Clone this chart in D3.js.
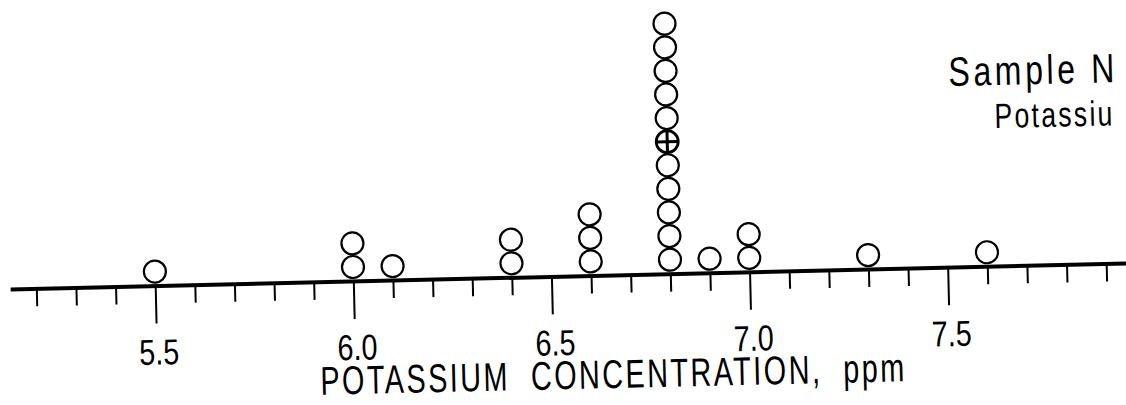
<!DOCTYPE html>
<html>
<head>
<meta charset="utf-8">
<script src="https://cdn.jsdelivr.net/npm/d3@7"></script>
<style>
  body { margin: 0; background: #fff; }
  svg { display: block; }
  text { font-family: 'Liberation Sans', Arial, sans-serif; fill: #000; }
</style>
</head>
<body>
<div id="chart"></div>
<script>
// Data: each concentration and how many labs reported it
var values = [5.5, 6.0, 6.1, 6.4, 6.6, 6.8, 6.9, 7.0, 7.3, 7.6];
var counts = [1, 2, 1, 2, 3, 11, 1, 2, 1, 1];

// the crossed circle sits in the 6.8 stack, 6th from the axis
var markedValue = 6.8,
    markedLevel = 6;

var majorTicks = [5.5, 6.0, 6.5, 7.0, 7.5];
var tickLabels = ["5.5", "6.0", "6.5", "7.0", "7.5"];
var minorTicks = [5.2, 5.3, 5.4, 5.6, 5.7, 5.8, 5.9, 6.1, 6.2, 6.3, 6.4,
                  6.6, 6.7, 6.8, 6.9, 7.1, 7.2, 7.3, 7.4, 7.6, 7.7, 7.8, 7.9];

var axisTitle = "POTASSIUM  CONCENTRATION,  ppm";
// caption is cropped by the right edge of the figure
var sampleTitle = "Sample N";
var sampleSubtitle = "Potassiu";

// narrow lettering: squeeze a normal face horizontally
function addText(parent, x, y, str, size, sx, len) {
  var g = parent.append('g')
                .attr('transform', 'translate(' + x + ',' + y + ') scale(' + sx + ',1)');
  var t = g.append('text')
           .attr('font-size', size)
           .style('white-space', 'pre')
           .text(str);
  if (len) {
    t.attr('textLength', len / sx).attr('lengthAdjust', 'spacing');
  }
  return t;
}

function draw() {
  "use strict";
  var width = 1126,
      height = 405,
      axisY = 276;

  var svg = d3.select('#chart')
              .append('svg')
              .attr('width', width)
              .attr('height', height);

  // the scanned figure is tilted a little, so draw everything in a rotated frame
  var plot = svg.append('g')
                .attr('transform', 'rotate(-1.33, 568, ' + axisY + ')');

  var xScale = d3.scaleLinear()
                 .domain([5.134, 7.985])
                 .range([10, 1140]);

  // stack level -> height above the axis
  var yScale = d3.scaleLinear()
                 .domain([1, 11])
                 .range([axisY - 14, axisY - 14 - 10 * 23.6]);

  // minor ticks
  var minorAxis = d3.axisBottom(xScale)
                    .tickValues(minorTicks)
                    .tickSizeInner(18)
                    .tickSizeOuter(0)
                    .tickFormat('');

  var gMinor = plot.append('g')
                   .attr('transform', 'translate(0,' + axisY + ')')
                   .call(minorAxis);
  gMinor.select('.domain').remove();
  gMinor.selectAll('line').attr('stroke', '#000').attr('stroke-width', 2);

  // major ticks, its domain path is the thick axis line
  var majorAxis = d3.axisBottom(xScale)
                    .tickValues(majorTicks)
                    .tickSizeInner(38)
                    .tickSizeOuter(0)
                    .tickFormat('');

  var gMajor = plot.append('g')
                   .attr('transform', 'translate(0,' + axisY + ')')
                   .call(majorAxis);
  gMajor.select('.domain').attr('stroke', '#000').attr('stroke-width', 4);
  gMajor.selectAll('line').attr('stroke', '#000').attr('stroke-width', 2);

  // tick labels in the narrow lettering
  gMajor.selectAll('.tick').each(function(d, i) {
    addText(d3.select(this), 2, 79, tickLabels[i], 36, 0.8)
      .attr('text-anchor', 'middle');
  });

  // build one point per circle
  var points = [];
  values.forEach(function(v, i) {
    for (var k = 1; k <= counts[i]; k++) {
      points.push({value: v, level: k, marked: v === markedValue && k === markedLevel});
    }
  });

  var dots = plot.append('g')
                 .attr('id', 'dots')
                 .selectAll('g')
                 .data(points)
                 .enter()
                 .append('g')
                 .attr('transform', function(d) {
                   return 'translate(' + xScale(d.value) + ',' + yScale(d.level) + ')';
                 });

  dots.append('circle')
      .attr('r', 11)
      .attr('fill', 'none')
      .attr('stroke', '#000')
      .attr('stroke-width', function(d) { return d.marked ? 2.8 : 2.2; });

  // cross inside the marked circle
  var marked = dots.filter(function(d) { return d.marked; });
  marked.append('line')
        .attr('x1', -11).attr('x2', 11)
        .attr('stroke', '#000').attr('stroke-width', 3);
  marked.append('line')
        .attr('y1', -11).attr('y2', 11)
        .attr('stroke', '#000').attr('stroke-width', 3);

  // axis title
  addText(plot, 318, axisY + 113, axisTitle, 40, 0.72, 584);

  // sample caption
  addText(plot, 953, 95, sampleTitle, 41, 0.78, 166);
  addText(plot, 998, 138, sampleSubtitle, 35, 0.76, 118);
}

draw();
</script>
</body>
</html>
